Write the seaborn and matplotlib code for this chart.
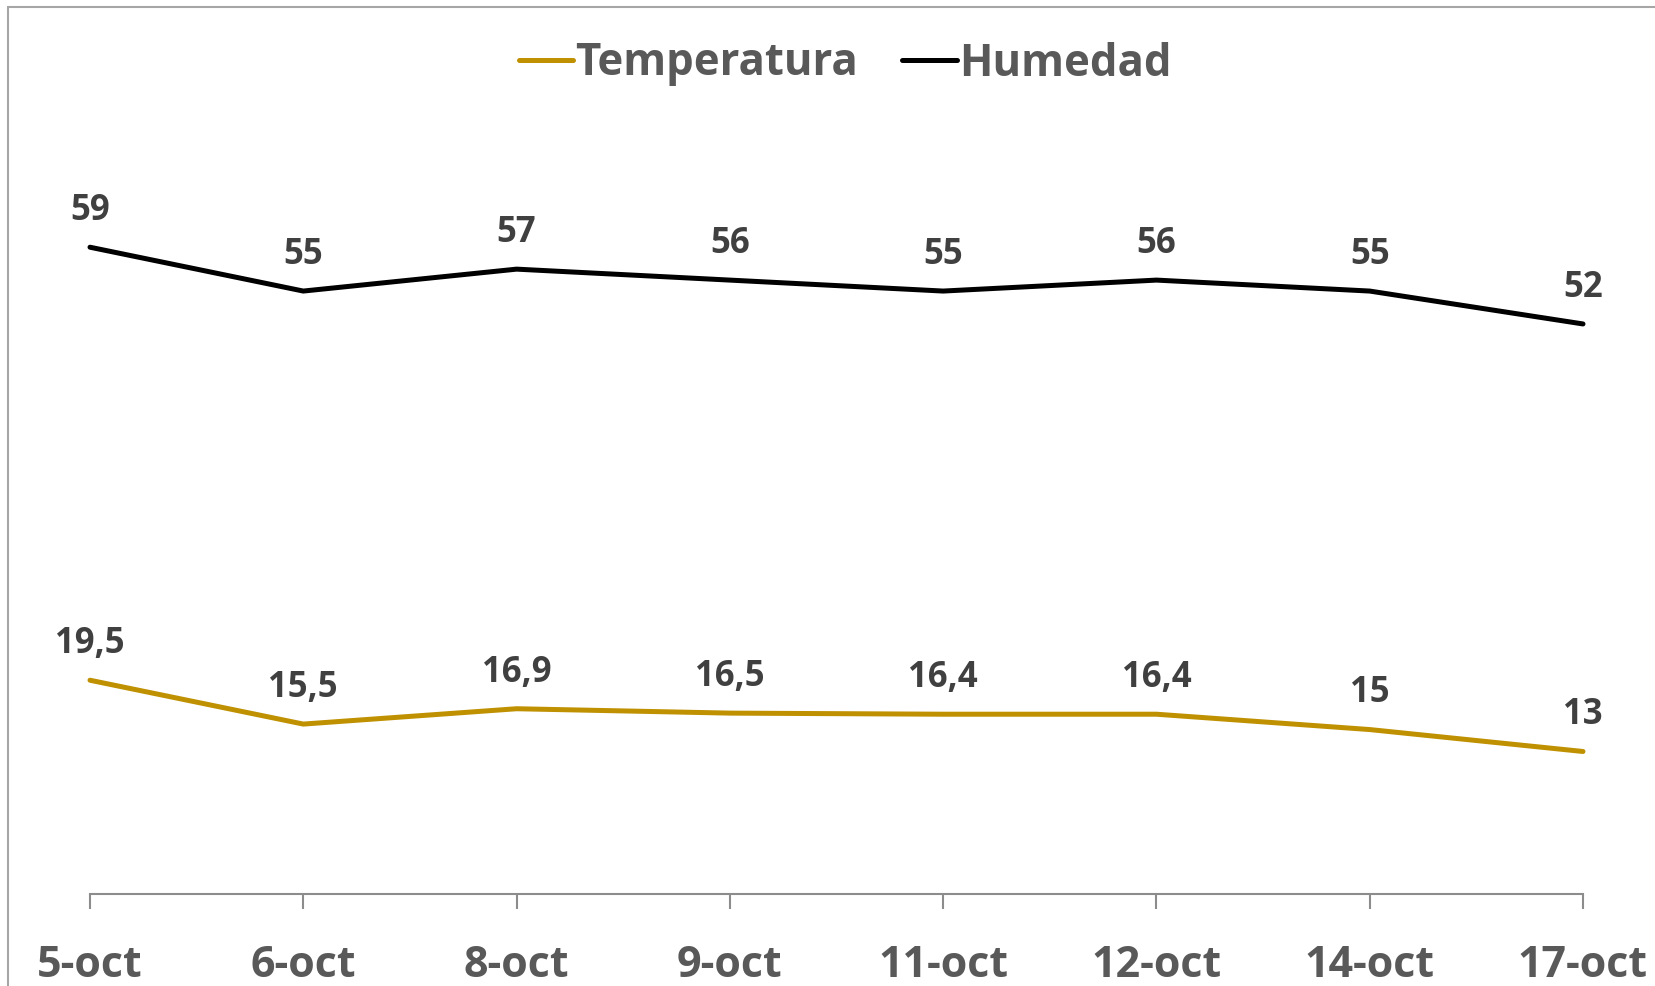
import matplotlib
matplotlib.use("Agg")
import matplotlib.pyplot as plt
import seaborn as sns
import pandas as pd
from matplotlib.lines import Line2D

dates = ["5-oct", "6-oct", "8-oct", "9-oct", "11-oct", "12-oct", "14-oct", "17-oct"]
temperatura = [19.5, 15.5, 16.9, 16.5, 16.4, 16.4, 15, 13]
humedad = [59, 55, 57, 56, 55, 56, 55, 52]
series_names = ["Temperatura", "Humedad"]
colors = {"Temperatura": "#BF9000", "Humedad": "#000000"}

sns.set_theme(style="white")
plt.rcParams['font.family'] = ['Open Sans', 'DejaVu Sans']

df = pd.DataFrame({
    "x": list(range(len(dates))) * 2,
    "valor": temperatura + humedad,
    "serie": ["Temperatura"] * len(dates) + ["Humedad"] * len(dates),
})

W, H = 1655, 986
fig = plt.figure(figsize=(W / 100, H / 100), dpi=100)
fig.patch.set_facecolor("white")

x0, x7 = 90, 1583
step = (x7 - x0) / 7
pad = 0.3
left_px = x0 - pad * step
width_px = (7 + 2 * pad) * step
bottom_px = 894
top_px = 17
ax = fig.add_axes([left_px / W, (H - bottom_px) / H, width_px / W, (bottom_px - top_px) / H])

sns.lineplot(data=df, x="x", y="valor", hue="serie", palette=colors,
             hue_order=series_names, linewidth=3.6, ax=ax, legend=False)

ax.set_xlim(-pad, 7 + pad)
ax.set_ylim(0, 80)
ax.set_xlabel("")
ax.set_ylabel("")
ax.set_yticks([])
ax.set_xticks(range(len(dates)))
ax.set_xticklabels(dates, fontsize=31, fontweight="bold", color="#595959")
ax.tick_params(axis="x", direction="out", length=11, width=1.5, color="#8C8C8C", pad=25, bottom=True)
for s in ["top", "right", "left"]:
    ax.spines[s].set_visible(False)
ax.spines["bottom"].set_color("#8C8C8C")
ax.spines["bottom"].set_linewidth(1.5)
ax.spines["bottom"].set_bounds(0, 7)

def fmt(v):
    s = ("%g" % v).replace(".", ",")
    return s

for vals in (temperatura, humedad):
    for i, v in enumerate(vals):
        ax.annotate(fmt(v), (i, v), xytext=(0, 26), textcoords="offset points",
                    ha="center", va="center", fontsize=25, fontweight="bold", color="#404040")

handles = [Line2D([], [], color=colors[n], linewidth=3.6) for n in series_names]
leg = fig.legend(handles, series_names, loc="center", bbox_to_anchor=(845 / W, 1 - 64 / H),
                 ncol=2, frameon=False, handlelength=1.25, handletextpad=0.05, columnspacing=1.0,
                 prop={"size": 31.5, "weight": "bold"})
for t in leg.get_texts():
    t.set_color("#595959")

# frame lines
fig.add_artist(Line2D([8 / W, 8 / W], [0, 1 - 7 / H], transform=fig.transFigure, color="#A6A6A6", linewidth=1.5))
fig.add_artist(Line2D([8 / W, 1], [1 - 7 / H, 1 - 7 / H], transform=fig.transFigure, color="#A6A6A6", linewidth=1.5))

fig.savefig("out.png", dpi=100)
